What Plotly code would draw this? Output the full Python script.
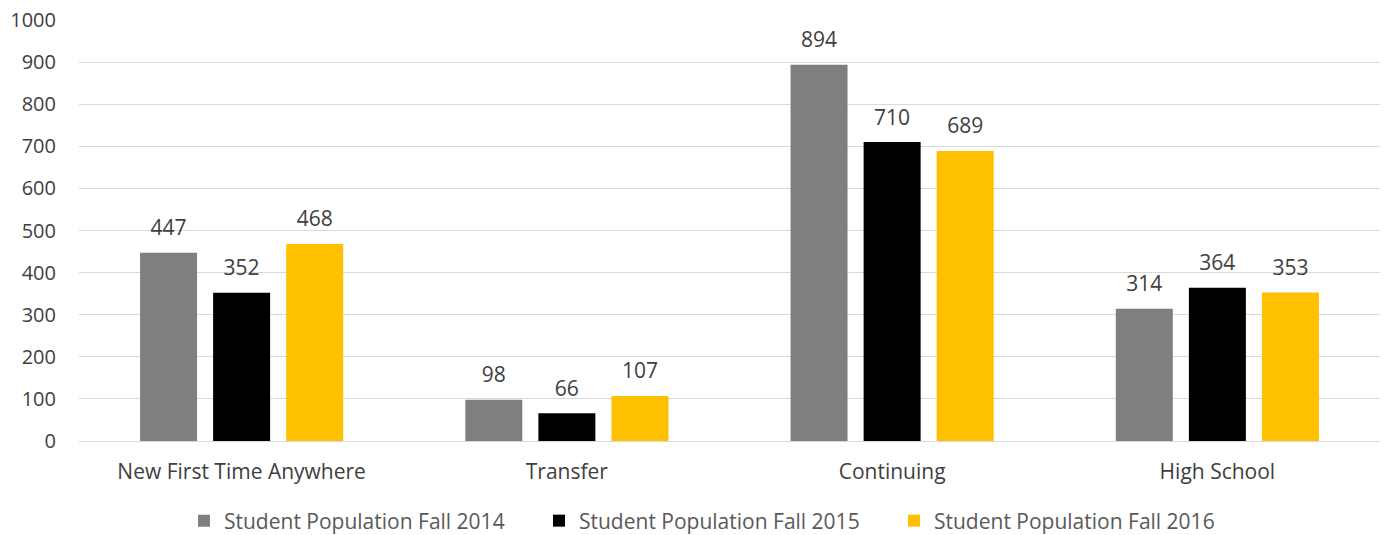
import plotly.graph_objects as go

categories = ["New First Time Anywhere", "Transfer", "Continuing", "High School"]
series_names = [
    "Student Population Fall 2014",
    "Student Population Fall 2015",
    "Student Population Fall 2016",
]
fall_2014 = [447, 98, 894, 314]
fall_2015 = [352, 66, 710, 364]
fall_2016 = [468, 107, 689, 353]

COLORS = ["#7F7F7F", "#000000", "#FFC000"]
FONT = "'Open Sans', sans-serif"
TEXT_GRAY = "#595959"
BARGAP = 0.326

fig = go.Figure()
for i, (name, vals, color) in enumerate(
    zip(series_names, [fall_2014, fall_2015, fall_2016], COLORS)
):
    fig.add_trace(
        go.Bar(
            x=categories,
            y=vals,
            name=name,
            marker_color=color,
            marker_line_width=0,
            offsetgroup=str(i),
        )
    )
    # value labels, grouped like the bars so they sit over their own bar;
    # the invisible marker pushes the text up off the bar top
    fig.add_trace(
        go.Scatter(
            x=categories,
            y=vals,
            mode="markers+text",
            text=[str(v) for v in vals],
            textposition="top center",
            textfont=dict(size=21, color="#404040", family=FONT),
            marker=dict(size=18, color="rgba(0,0,0,0)"),
            offsetgroup=str(i),
            showlegend=False,
            hoverinfo="skip",
            cliponaxis=False,
        )
    )

fig.update_layout(
    width=1385,
    height=535,
    margin=dict(l=79, r=5, t=20, b=94, autoexpand=False),
    barmode="group",
    bargap=BARGAP,
    bargroupgap=0.22,
    scattermode="group",
    scattergap=BARGAP,
    plot_bgcolor="white",
    paper_bgcolor="white",
    font=dict(family=FONT, color=TEXT_GRAY, size=20),
    legend=dict(
        orientation="h",
        x=0.49,
        xanchor="center",
        y=-0.19,
        yanchor="middle",
        font=dict(size=21, color=TEXT_GRAY),
        entrywidth=310,
        entrywidthmode="pixels",
        traceorder="normal",
    ),
)
fig.update_xaxes(
    automargin=False,
    showgrid=False,
    showline=True,
    linecolor="#D9D9D9",
    linewidth=1,
    ticks="outside",
    ticklen=12,
    tickcolor="rgba(0,0,0,0)",
    tickfont=dict(size=21, color="#404040"),
)
fig.update_yaxes(
    automargin=False,
    range=[0, 1000],
    dtick=100,
    ticklabeloverflow="allow",
    showgrid=True,
    gridcolor="#D9D9D9",
    gridwidth=1,
    zeroline=False,
    showline=False,
    ticks="outside",
    ticklen=18,
    tickcolor="rgba(0,0,0,0)",
    tickfont=dict(size=20, color="#404040"),
)

# drop the default 8px body margin so the figure fills the window exactly
fig.write_html(
    "out.html",
    config={"displayModeBar": False},
    post_script="document.body.style.margin='0';document.body.style.overflow='hidden';",
)
